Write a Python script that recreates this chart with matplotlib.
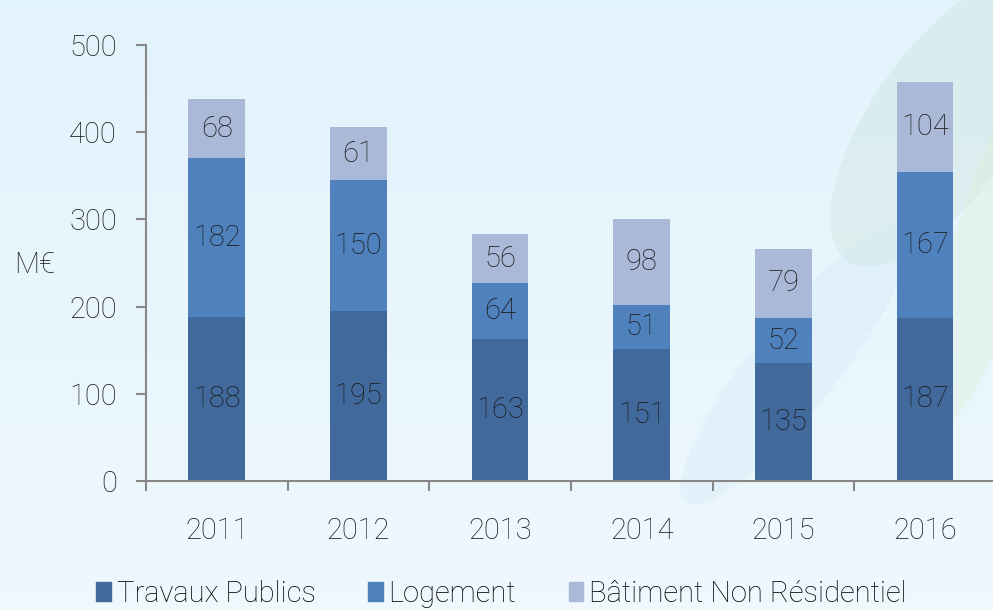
import numpy as np
import matplotlib.pyplot as plt
from matplotlib.patches import Patch, Ellipse

years = ["2011", "2012", "2013", "2014", "2015", "2016"]
travaux_publics = [188, 195, 163, 151, 135, 187]
logement = [182, 150, 64, 51, 52, 167]
batiment_nr = [68, 61, 56, 98, 79, 104]
series_names = ["Travaux Publics", "Logement", "Bâtiment Non Résidentiel"]

colors = ["#41699b", "#4f81bd", "#aab9d8"]
plt.rcParams['font.family'] = ['Roboto', 'DejaVu Sans']
plt.rcParams['font.weight'] = 'light'

fig = plt.figure(figsize=(9.93, 6.10), dpi=100)

# background gradient + faint decoration on the right
bg = fig.add_axes([0, 0, 1, 1], zorder=-10)
grad = np.linspace(0, 1, 200)[:, None]
top = np.array([0.886, 0.953, 0.988])
bot = np.array([0.937, 0.973, 0.996])
img = top + (bot - top) * grad[:, :, None] * np.ones((1, 2, 1))
bg.imshow(img, aspect='auto', extent=[0, 1, 0, 1], origin='upper')
bg.add_patch(Ellipse((0.95, 0.80), 0.16, 0.50, angle=-20, color="#c9e2d6", alpha=0.35, lw=0))
bg.add_patch(Ellipse((1.0, 0.60), 0.08, 0.6, angle=-10, color="#dcefd8", alpha=0.4, lw=0))
bg.add_patch(Ellipse((0.80, 0.40), 0.10, 0.50, angle=-25, color="#d3e8f5", alpha=0.35, lw=0))
bg.set_xlim(0, 1)
bg.set_ylim(0, 1)
bg.axis('off')

ax = fig.add_axes([0.147, 0.2115, 0.856, 0.7148])
ax.patch.set_alpha(0)
x = np.arange(len(years))
width = 0.40
bottom = np.zeros(len(years))
for vals, col, name in zip([travaux_publics, logement, batiment_nr], colors, series_names):
    vals = np.array(vals)
    bars = ax.bar(x, vals, width, bottom=bottom, color=col, label=name, edgecolor='none')
    for xi, b, v in zip(x, bottom, vals):
        ax.text(xi, b + v / 2, str(v), ha='center', va='center', fontsize=21, color='#1a1a1a')
    bottom = bottom + vals

ax.set_xlim(-0.5, len(years) - 0.5)
ax.set_ylim(0, 500)
ax.set_yticks([0, 100, 200, 300, 400, 500])
ax.set_xticks(x)
ax.set_xticklabels(years)
ax.set_xticks(np.arange(len(years) + 1) - 0.5, minor=True)
ax.tick_params(axis='x', which='major', length=0, pad=26, labelsize=21, labelcolor='#1a1a1a')
ax.tick_params(axis='x', which='minor', length=7, width=1.5, color='#888888', direction='out')
ax.tick_params(axis='y', length=7, width=1.5, color='#888888', pad=14, labelsize=21, labelcolor='#1a1a1a')
for s in ['top', 'right']:
    ax.spines[s].set_visible(False)
for s in ['left', 'bottom']:
    ax.spines[s].set_color('#888888')
    ax.spines[s].set_linewidth(1.5)

fig.text(0.035, 0.565, "M€", fontsize=21, ha='center', va='center', color='#1a1a1a')

handles = [Patch(color=c) for c in colors]
fig.legend(handles, series_names, loc='center', bbox_to_anchor=(0.505, 0.027), ncol=3,
           frameon=False, fontsize=21, handlelength=0.5, handleheight=0.6,
           handletextpad=0.2, columnspacing=1.8)

fig.savefig("out.png", dpi=100)
